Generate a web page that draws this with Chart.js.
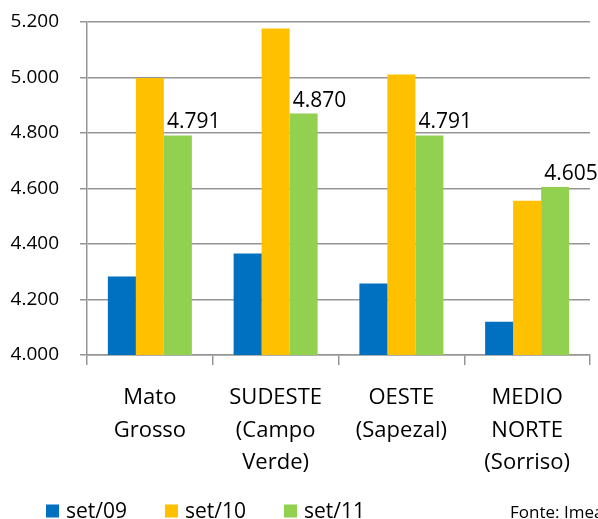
<!DOCTYPE html>
<html>
<head>
<meta charset="utf-8">
<script src="https://cdn.jsdelivr.net/npm/chart.js@4/dist/chart.umd.min.js"></script>
<style>
    html, body { margin: 0; padding: 0; background: #fff; }
    #wrap { width: 598px; height: 519px; position: relative; }
</style>
</head>
<body>
<div id="wrap"><canvas id="myChart"></canvas></div>
<script>
var categories = [['Mato', 'Grosso'], ['SUDESTE', '(Campo', 'Verde)'], ['OESTE', '(Sapezal)'], ['MEDIO', 'NORTE', '(Sorriso)']];
var seriesNames = ['set/09', 'set/10', 'set/11'];
var set09 = [4283, 4366, 4258, 4120];
var set10 = [4998, 5177, 5011, 4556];
var set11 = [4791, 4870, 4791, 4605];
var seriesColors = ['#0070C0', '#FFC000', '#92D050'];
var yMin = 4000, yMax = 5200, yStep = 200;
var sourceText = 'Fonte: Imea';

var FONT = '"Open Sans", "Noto Sans", sans-serif';
var gridColor = '#959595';

var fmt = function (v) {
    return String(Math.round(v)).replace(/\B(?=(\d{3})+(?!\d))/g, '.');
};

// labels on the last series + legend + source
var extras = {
    id: 'extras',
    afterDatasetsDraw: function (chart) {
        var ctx = chart.ctx;
        ctx.save();
        ctx.fillStyle = '#000';
        ctx.font = '21px ' + FONT;
        ctx.textAlign = 'left';
        ctx.textBaseline = 'alphabetic';
        var meta = chart.getDatasetMeta(2);
        meta.data.forEach(function (bar, i) {
            ctx.fillText(fmt(set11[i]), bar.x - bar.width / 2 + 3, bar.y - 7);
        });

        // legend
        ctx.font = '21px ' + FONT;
        var x = 46;
        seriesNames.forEach(function (name, i) {
            ctx.fillStyle = seriesColors[i];
            ctx.fillRect(x, 504.5, 13, 13);
            ctx.fillStyle = '#000';
            ctx.fillText(name, x + 20, 518);
            x += 20 + ctx.measureText(name).width + 38;
        });

        ctx.font = '17px ' + FONT;
        ctx.textBaseline = 'top';
        ctx.fillText(sourceText, 510, 505);
        ctx.restore();
    }
};

var datasets = [set09, set10, set11].map(function (values, i) {
    return {
        label: seriesNames[i],
        data: values,
        backgroundColor: seriesColors[i],
        borderWidth: 0,
        barPercentage: 1,
        categoryPercentage: 0.668
    };
});

var ctx = document.getElementById('myChart').getContext('2d');
var myChart = new Chart(ctx, {
    type: 'bar',
    data: { labels: categories, datasets: datasets },
    options: {
        responsive: true,
        maintainAspectRatio: false,
        animation: false,
        layout: { padding: { top: 22, right: 8, bottom: 40, left: 0 } },
        plugins: {
            legend: { display: false },
            tooltip: { enabled: false }
        },
        scales: {
            x: {
                grid: {
                    display: true,
                    drawOnChartArea: false,
                    offset: true,
                    color: gridColor,
                    lineWidth: 1.5,
                    tickLength: 10
                },
                border: { color: gridColor, width: 1.5 },
                ticks: {
                    color: '#000',
                    padding: 17,
                    maxRotation: 0,
                    autoSkip: false,
                    font: { family: FONT, size: 22, lineHeight: 1.47 }
                },
                afterFit: function (scale) { scale.height = 124; }
            },
            y: {
                min: yMin,
                max: yMax,
                grid: {
                    color: gridColor,
                    lineWidth: 1.5,
                    tickLength: 7
                },
                border: { color: gridColor, width: 1.5 },
                ticks: {
                    stepSize: yStep,
                    color: '#000',
                    padding: 21,
                    font: { family: FONT, size: 19 },
                    callback: function (v) { return fmt(v); }
                },
                afterFit: function (scale) {
                    scale.width = 87;
                    // tick padding would otherwise push the plot down
                    scale.paddingTop = 0;
                    scale.paddingBottom = 0;
                }
            }
        }
    },
    plugins: [extras]
});
</script>
</body>
</html>
